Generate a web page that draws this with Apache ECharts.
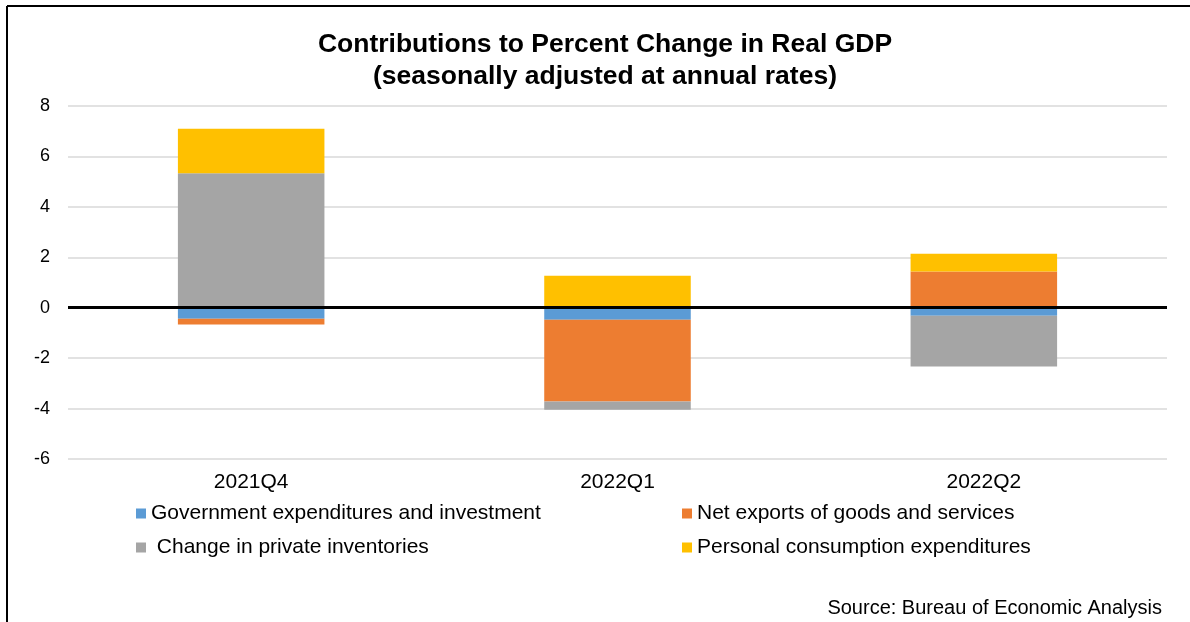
<!DOCTYPE html>
<html>
<head>
<meta charset="utf-8">
<script src="https://cdn.jsdelivr.net/npm/echarts@6/dist/echarts.min.js"></script>
<style>
  html, body { margin: 0; padding: 0; background: #fff; }
  #chart { width: 1190px; height: 622px; }
</style>
</head>
<body>
<div id="chart"></div>
<script>
// Quarters on the x axis
const quarters = ['2021Q4', '2022Q1', '2022Q2'];

// Contributions (percentage points)
const government = [-0.44, -0.48, -0.32];
const netExports = [-0.23, -3.24, 1.44];
const inventories = [5.33, -0.33, -2.01];
const consumption = [1.77, 1.27, 0.70];

const seriesNames = [
  'Government expenditures and investment',
  'Net exports of goods and services',
  ' Change in private inventories',
  'Personal consumption expenditures',
];
const seriesColors = ['#5B9BD5', '#ED7D31', '#A5A5A5', '#FFC000'];

const font = 'Liberation Sans, Arial, sans-serif';
const chart = echarts.init(document.getElementById('chart'));

const makeBar = (name, data, color, extra) => Object.assign({
  name,
  type: 'bar',
  stack: 'gdp',
  data,
  barWidth: '40%',
  itemStyle: { color },
  emphasis: { disabled: true },
}, extra || {});

const legendText = { fontFamily: font, fontSize: 21, color: '#000' };

const option = {
  animation: false,
  backgroundColor: '#fff',
  title: {
    text: 'Contributions to Percent Change in Real GDP\n(seasonally adjusted at annual rates)',
    left: 600,
    textAlign: 'center',
    top: 24,
    textStyle: {
      fontFamily: font,
      fontSize: 26.5,
      fontWeight: 'bold',
      color: '#000',
      lineHeight: 32,
    },
  },
  legend: [
    {
      orient: 'vertical',
      left: 131,
      top: 498,
      itemWidth: 10,
      itemHeight: 10,
      itemGap: 13,
      icon: 'rect',
      textStyle: legendText,
      data: [seriesNames[0], seriesNames[2]],
    },
    {
      orient: 'vertical',
      left: 677,
      top: 498,
      itemWidth: 10,
      itemHeight: 10,
      itemGap: 13,
      icon: 'rect',
      textStyle: legendText,
      data: [seriesNames[1], seriesNames[3]],
    },
  ],
  grid: { left: 68, right: 23, top: 106, bottom: 163 },
  xAxis: {
    type: 'category',
    data: quarters,
    axisLine: { show: false },
    axisTick: { show: false },
    axisLabel: {
      fontFamily: font,
      fontSize: 21,
      color: '#000',
      margin: 13,
    },
  },
  yAxis: {
    type: 'value',
    min: -6,
    max: 8,
    interval: 2,
    axisLine: { show: false },
    axisTick: { show: false },
    splitLine: { lineStyle: { color: '#d9d9d9', width: 1.5 } },
    axisLabel: {
      fontFamily: font,
      fontSize: 18,
      color: '#000',
      margin: 18,
    },
  },
  series: [
    makeBar(seriesNames[0], government, seriesColors[0]),
    makeBar(seriesNames[1], netExports, seriesColors[1]),
    makeBar(seriesNames[2], inventories, seriesColors[2]),
    makeBar(seriesNames[3], consumption, seriesColors[3], {
      markLine: {
        silent: true,
        symbol: 'none',
        label: { show: false },
        lineStyle: { color: '#000', width: 3, type: 'solid' },
        data: [{ yAxis: 0 }],
      },
    }),
  ],
  graphic: [
    {
      type: 'line',
      shape: { x1: 7, y1: 6, x2: 1190, y2: 6 },
      style: { stroke: '#000', lineWidth: 2 },
    },
    {
      type: 'line',
      shape: { x1: 7, y1: 6, x2: 7, y2: 622 },
      style: { stroke: '#000', lineWidth: 2 },
    },
    {
      type: 'text',
      right: 28,
      top: 598,
      style: {
        text: 'Source: Bureau of Economic Analysis',
        font: '20px ' + font,
        fill: '#000',
      },
    },
  ],
};

chart.setOption(option);
</script>
</body>
</html>
